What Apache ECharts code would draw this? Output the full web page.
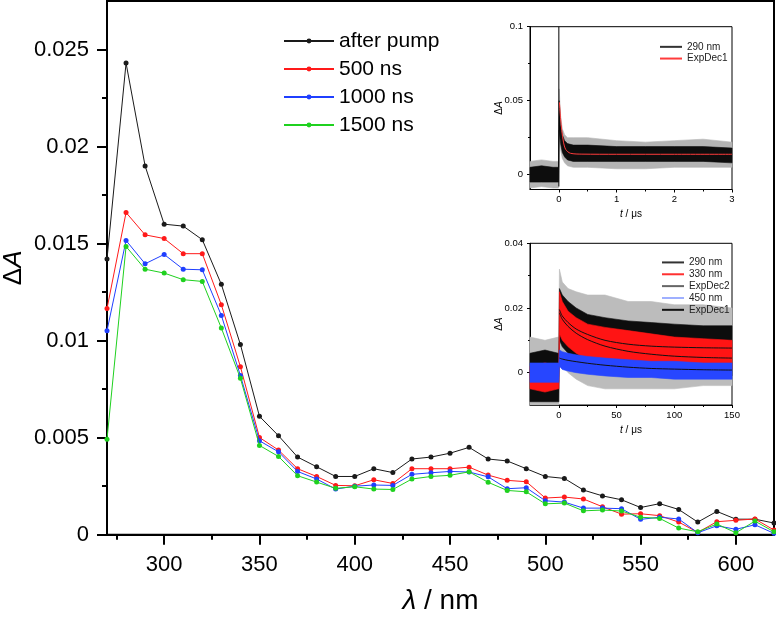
<!DOCTYPE html>
<html><head><meta charset="utf-8">
<script src="https://cdn.jsdelivr.net/npm/echarts@6/dist/echarts.min.js"></script>
<style>html,body{margin:0;padding:0;background:#fff}#c{width:776px;height:617px}</style>
</head><body><div id="c"></div>
<script>
// ---------- main spectrum data ----------
const wavelengths = [270,280,290,300,310,320,330,340,350,360,370,380,390,400,410,420,430,440,450,460,470,480,490,500,510,520,530,540,550,560,570,580,590,600,610,620];
const afterPump = [0.0142,0.0243,0.0190,0.0160,0.0159,0.0152,0.0129,0.0098,0.0061,0.0051,0.0040,0.0035,0.0030,0.0030,0.0034,0.0032,0.0039,0.0040,0.0042,0.0045,0.0039,0.0038,0.0034,0.0030,0.0029,0.0023,0.0020,0.0018,0.0014,0.0016,0.0013,0.00065,0.0012,0.0008,0.0008,0.0006];
const ns500 = [0.01165,0.0166,0.01545,0.01526,0.01448,0.01448,0.01185,0.00866,0.00501,0.00436,0.0034,0.0030,0.00254,0.00252,0.00283,0.00264,0.0034,0.0034,0.0034,0.00348,0.00307,0.0028,0.00273,0.00189,0.00194,0.00184,0.00144,0.00106,0.00108,0.00098,0.00065,0.00012,0.00067,0.00074,0.00081,0.00024];
const ns1000 = [0.01051,0.01516,0.01396,0.01444,0.01368,0.01365,0.0113,0.0082,0.00484,0.00427,0.00326,0.00287,0.00235,0.0025,0.00256,0.00254,0.00311,0.00319,0.00326,0.00323,0.00298,0.00237,0.00242,0.00175,0.00168,0.00137,0.00137,0.00134,0.00079,0.0009,0.00081,0.0001,0.00046,0.00028,0.00051,0.00007];
const ns1500 = [0.00492,0.01485,0.01368,0.01348,0.01314,0.01305,0.01065,0.00806,0.0046,0.00403,0.00304,0.00271,0.00239,0.00247,0.00235,0.00233,0.00287,0.003,0.00306,0.00324,0.0027,0.00228,0.00221,0.00159,0.00163,0.00123,0.00127,0.00122,0.0009,0.00084,0.00034,0.00015,0.00055,0.0001,0.0007,0.00015];
const seriesNames = ['after pump','500 ns','1000 ns','1500 ns'];
const mainXTicks = [300,350,400,450,500,550,600];
const mainXMinor = [275,325,375,425,475,525,575];
const mainYTicks = [0,0.005,0.01,0.015,0.02,0.025];
const mainYMinor = [0.0025,0.0075,0.0125,0.0175,0.0225];

// ---------- inset 1 (290 nm, 0-3 us) ----------
const i1T = [-0.5,-0.3,-0.1,-0.005,0.005,0.03,0.06,0.1,0.15,0.25,0.5,1,1.5,2,2.5,3];
const i1CoreHi = [0.005,0.006,0.005,0.005,0.05,0.034,0.027,0.023,0.021,0.020,0.020,0.019,0.019,0.019,0.019,0.018];
const i1CoreLo = [-0.005,-0.005,-0.005,-0.005,0.03,0.021,0.015,0.012,0.010,0.009,0.009,0.009,0.009,0.009,0.009,0.008];
const i1OuterHi = [0.009,0.010,0.009,0.009,0.058,0.040,0.031,0.027,0.025,0.025,0.025,0.023,0.022,0.023,0.024,0.022];
const i1OuterLo = [-0.009,-0.008,-0.009,-0.009,0.026,0.017,0.011,0.008,0.006,0.005,0.005,0.004,0.004,0.005,0.005,0.005];
const i1SpikeT = [0,0];
const i1SpikeV = [-0.008,0.1];
const i1FitT = [0.01,0.03,0.05,0.08,0.12,0.2,0.4,1,2,3];
const i1Fit = [0.049,0.038,0.030,0.022,0.017,0.0145,0.0139,0.0138,0.0138,0.0138];
const i1XTicks = [0,1,2,3], i1XMinor = [0.5,1.5,2.5];
const i1YTicks = [0,0.05,0.1], i1YMinor = [0.025,0.075];

// ---------- inset 2 (290/330/450 nm, 0-150 us) ----------
const i2T = [-25,-12,-0.5,0,0.5,3,8,15,25,40,60,80,100,125,150];
const i2BlackOuterHi = [0.011,0.010,0.011,0.011,0.032,0.028,0.026,0.025,0.024,0.024,0.022,0.022,0.021,0.021,0.020];
const i2BlackOuterLo = [-0.01,-0.01,-0.01,-0.01,0.004,0.002,0.0,-0.002,-0.004,-0.005,-0.005,-0.005,-0.005,-0.004,-0.004];
const i2BlackCoreHi = [0.006,0.007,0.006,0.006,0.026,0.024,0.022,0.020,0.018,0.017,0.016,0.0155,0.015,0.0145,0.0145];
const i2BlackCoreLo = [-0.009,-0.009,-0.009,-0.009,0.010,0.008,0.006,0.004,0.002,0.001,0.0,0.0,-0.001,-0.001,-0.001];
const i2RedHi = [0.002,0.003,0.002,0.002,0.025,0.022,0.019,0.017,0.015,0.014,0.013,0.012,0.011,0.0105,0.010];
const i2RedLo = [-0.005,-0.006,-0.005,-0.005,0.012,0.010,0.008,0.006,0.004,0.003,0.002,0.0015,0.001,0.001,0.001];
const i2BlueHi = [0.003,0.003,0.003,0.003,0.007,0.0065,0.006,0.0055,0.005,0.0045,0.004,0.0035,0.0035,0.003,0.003];
const i2BlueLo = [-0.003,-0.003,-0.003,-0.003,0.002,0.001,0.0005,0.0,-0.0005,-0.001,-0.0015,-0.0015,-0.002,-0.002,-0.002];
const i2FitT = [0.5,3,8,15,25,40,60,80,100,125,150];
const i2Fit290 = [0.0195,0.0175,0.0155,0.0135,0.0118,0.0100,0.0088,0.0082,0.0079,0.0077,0.0076];
const i2Fit330 = [0.0185,0.0165,0.0143,0.0122,0.0102,0.0082,0.0066,0.0057,0.0051,0.0047,0.0045];
const i2Fit450 = [0.0045,0.0042,0.0038,0.0034,0.0029,0.0023,0.0017,0.0013,0.0011,0.0009,0.0008];
const i2XTicks = [0,50,100,150], i2XMinor = [25,75,125];
const i2YTicks = [0,0.02,0.04], i2YMinor = [0.01,0.03];

const FONT = '"Liberation Sans", Arial, Helvetica, sans-serif';
const mainColors = ['#1a1a1a','#ff1a1a','#1f3fff','#1fd11f'];

function zip(a,b){return a.map((v,i)=>[v,b[i]]);}

function majorAxis(gridIndex, pos, min, max, ticks, o) {
  return {type:'value', gridIndex, position:pos, min, max,
    axisLine:{show:true, onZero:false, lineStyle:{color:'#000', width:o.lw}},
    axisTick:{show:true, inside:false, length:o.tl, customValues:ticks, lineStyle:{color:'#000', width:o.lw}},
    axisLabel:{show:true, customValues:ticks, margin:o.margin, fontSize:o.fs, color:'#000', fontFamily:FONT},
    splitLine:{show:false}, minorTick:{show:false}, minorSplitLine:{show:false},
    name:o.name, nameLocation:'middle', nameGap:o.nameGap, nameMoveOverlap:false, nameTextStyle:o.nameStyle};
}
function minorAxis(gridIndex, pos, min, max, ticks, o) {
  return {type:'value', gridIndex, position:pos, offset:0, min, max,
    axisLine:{show:false, onZero:false},
    axisTick:{show:true, inside:false, length:o.tl, customValues:ticks, lineStyle:{color:'#000', width:o.lw}},
    axisLabel:{show:false}, splitLine:{show:false}};
}
function richName(fs){
  return {fontFamily:FONT, fontSize:fs, color:'#000',
    rich:{i:{fontStyle:'italic', fontSize:fs, fontFamily:FONT, color:'#000'},
          n:{fontSize:fs, fontFamily:FONT, color:'#000'}}};
}

function band(name, xi, yi, t, lo, hi, color, z, opacity) {
  return {type:'custom', name, xAxisIndex:xi, yAxisIndex:yi, z, silent:true,
    data:t.map((v,i)=>[v, lo[i], hi[i]]),
    encode:{x:0, y:[1,2]},
    renderItem:(params, api)=>{
      if (params.dataIndex !== 0) return null;
      const top = t.map((v,i)=>api.coord([v, hi[i]]));
      const bot = t.map((v,i)=>api.coord([v, lo[i]])).reverse();
      return {type:'polygon', shape:{points:top.concat(bot)},
        style:{fill:color, stroke:color, lineWidth:0.6, opacity:opacity==null?1:opacity}};
    }};
}
function fitLine(name, xi, yi, t, v, color, z) {
  return {type:'line', name, xAxisIndex:xi, yAxisIndex:yi, z, data:zip(t,v), smooth:0.3,
    symbol:'none', lineStyle:{color, width:1}, itemStyle:{color}};
}
function legendDummy(name, xi, yi, color, w) {
  return {type:'line', name, xAxisIndex:xi, yAxisIndex:yi, data:[], symbol:'none',
    lineStyle:{color, width:w||1}, itemStyle:{color}};
}

const labelMap = {i1_290:'290 nm', i1_fit:'ExpDec1', i2_290:'290 nm', i2_330:'330 nm', i2_fit2:'ExpDec2', i2_450:'450 nm', i2_fit1:'ExpDec1'};

const series = [];
seriesNames.forEach((n,k)=>{
  const vals = [afterPump, ns500, ns1000, ns1500][k];
  series.push({type:'line', name:n, xAxisIndex:0, yAxisIndex:0, z:3+k,
    data:zip(wavelengths, vals), symbol:'circle', symbolSize:5, showSymbol:true,
    lineStyle:{color:mainColors[k], width:1}, itemStyle:{color:mainColors[k]}});
});
// inset 1
series.push(band('i1_outer',2,2,i1T,i1OuterLo,i1OuterHi,'#b4b4b4',3));
series.push(band('i1_core',2,2,i1T,i1CoreLo,i1CoreHi,'#0d0d0d',4));
series.push({type:'line', name:'i1_spike', xAxisIndex:2, yAxisIndex:2, z:5, data:zip(i1SpikeT,i1SpikeV), symbol:'none', lineStyle:{color:'#000', width:1}});
series.push(fitLine('i1_fit',2,2,i1FitT,i1Fit,'#ff3b3b',6));
series.push(legendDummy('i1_290',2,2,'#333'));
// inset 2
series.push(band('i2_bo',4,4,i2T,i2BlackOuterLo,i2BlackOuterHi,'#bcbcbc',3));
series.push(band('i2_bc',4,4,i2T,i2BlackCoreLo,i2BlackCoreHi,'#0d0d0d',4));
series.push(band('i2_red',4,4,i2T,i2RedLo,i2RedHi,'#ff1414',5));
series.push(band('i2_blue',4,4,i2T,i2BlueLo,i2BlueHi,'#2746ff',6));
series.push(fitLine('i2_f290',4,4,i2FitT,i2Fit290,'#111',7));
series.push(fitLine('i2_f330',4,4,i2FitT,i2Fit330,'#111',7));
series.push(fitLine('i2_f450',4,4,i2FitT,i2Fit450,'#111',7));
series.push(legendDummy('i2_290',4,4,'#333'));
series.push(legendDummy('i2_330',4,4,'#ff3030'));
series.push(legendDummy('i2_fit2',4,4,'#666'));
series.push(legendDummy('i2_450',4,4,'#9fb0ff',1.5));
series.push(legendDummy('i2_fit1',4,4,'#111'));

const gridCommon = {show:true, borderColor:'#000', containLabel:false, outerBoundsMode:'none'};
const option = {
  animation:false,
  backgroundColor:'#fff',
  textStyle:{fontFamily:FONT},
  grid:[
    Object.assign({left:107, top:1, width:667, height:533.7, borderWidth:2, backgroundColor:'transparent'}, gridCommon),
    Object.assign({left:530, top:26.7, width:202, height:162.8, borderWidth:1, backgroundColor:'#fff'}, gridCommon),
    Object.assign({left:530, top:243.3, width:202, height:161.7, borderWidth:1, backgroundColor:'#fff'}, gridCommon)
  ],
  xAxis:[
    majorAxis(0,'bottom',270,620,mainXTicks,{lw:2, tl:10, margin:19, fs:22, name:'{i|λ}{n| / nm}', nameGap:53, nameStyle:richName(28)}),
    minorAxis(0,'bottom',270,620,mainXMinor,{lw:2, tl:5}),
    majorAxis(1,'bottom',-0.5,3,i1XTicks,{lw:1, tl:3, margin:5, fs:9.5, name:'{i|t}{n| / μs}', nameGap:20, nameStyle:richName(10)}),
    minorAxis(1,'bottom',-0.5,3,i1XMinor,{lw:1, tl:2}),
    majorAxis(2,'bottom',-25,150,i2XTicks,{lw:1, tl:3, margin:5, fs:9.5, name:'{i|t}{n| / μs}', nameGap:20, nameStyle:richName(10)}),
    minorAxis(2,'bottom',-25,150,i2XMinor,{lw:1, tl:2})
  ],
  yAxis:[
    majorAxis(0,'left',0,0.0275,mainYTicks,{lw:2, tl:10, margin:18, fs:22, name:'{n|Δ}{i|A}', nameGap:80, nameStyle:richName(26)}),
    minorAxis(0,'left',0,0.0275,mainYMinor,{lw:2, tl:5}),
    majorAxis(1,'left',-0.01,0.1,i1YTicks,{lw:1, tl:3, margin:7, fs:9.5, name:'{n|Δ}{i|A}', nameGap:26, nameStyle:richName(10)}),
    minorAxis(1,'left',-0.01,0.1,i1YMinor,{lw:1, tl:2}),
    majorAxis(2,'left',-0.01,0.04,i2YTicks,{lw:1, tl:3, margin:7, fs:9.5, name:'{n|Δ}{i|A}', nameGap:26, nameStyle:richName(10)}),
    minorAxis(2,'left',-0.01,0.04,i2YMinor,{lw:1, tl:2})
  ],
  legend:[
    {data:seriesNames, orient:'vertical', left:278, top:22, itemWidth:50, itemHeight:6, itemGap:0,
     textStyle:{fontSize:21, lineHeight:28, color:'#000', fontFamily:FONT}, selectedMode:false},
    {data:['i1_290','i1_fit'], orient:'vertical', left:654, top:36, itemWidth:22, itemHeight:6, itemGap:0,
     itemStyle:{opacity:0},
     formatter:n=>labelMap[n], textStyle:{fontSize:10, lineHeight:11.7, color:'#222', fontFamily:FONT}, selectedMode:false},
    {data:['i2_290','i2_330','i2_fit2','i2_450','i2_fit1'], orient:'vertical', left:656, top:251.5, itemWidth:22, itemHeight:6, itemGap:0,
     itemStyle:{opacity:0},
     formatter:n=>labelMap[n], textStyle:{fontSize:10, lineHeight:11.85, color:'#222', fontFamily:FONT}, selectedMode:false}
  ],
  series
};
const chart = echarts.init(document.getElementById('c'), null, {renderer:'canvas'});
chart.setOption(option);
</script>
</body></html>
